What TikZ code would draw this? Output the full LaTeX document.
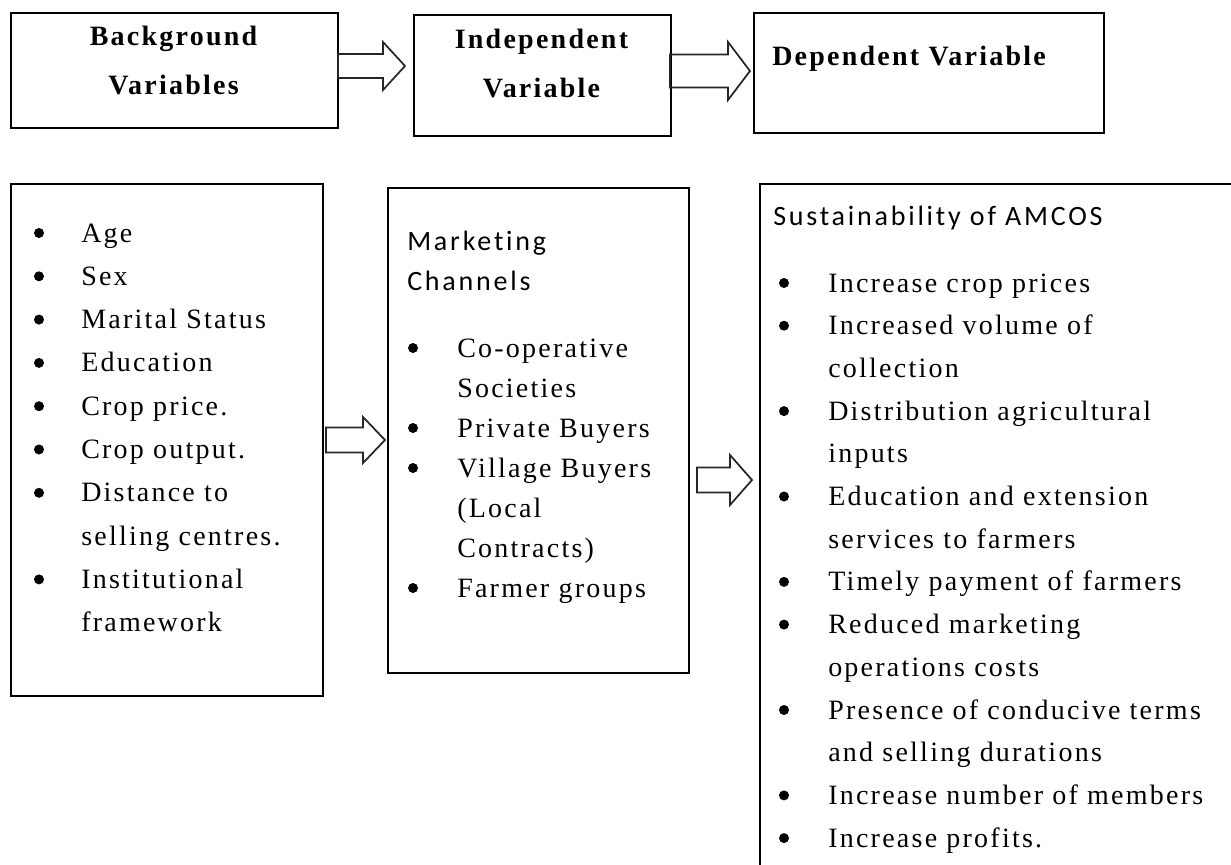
\documentclass[tikz,border=0pt]{standalone}
\usepackage{fontspec}
\setmainfont{Liberation Serif}[LetterSpace=8]
\newfontfamily\calfont{Carlito}[LetterSpace=10, Ligatures=NoCommon]
\usetikzlibrary{calc}

\tikzset{
  shaftw/.store in=\shaftw, headw/.store in=\headw,
  shaftw=12, headw=24,
}

\begin{document}
\begin{tikzpicture}[x=0.75pt, y=-0.75pt, font=\fontsize{21}{36}\selectfont,
    box/.style={draw, line width=1.8pt, anchor=north west, inner sep=0pt},
    heading/.style={anchor=base, inner sep=0pt, font=\fontsize{21}{36}\selectfont\bfseries},
    item/.style={anchor=base west, inner sep=0pt},
    dot/.style={circle, fill=black, inner sep=0pt, minimum size=7.5pt},
    hollow/.style={draw=black!85, line width=1.3pt,
      to path={let \p1=(\tikztostart), \p2=(\tikztotarget) in
        (\x1,\y1+\shaftw*\px) -- (\x2-22*\px,\y1+\shaftw*\px) -- (\x2-22*\px,\y1+\headw*\px)
        -- (\x2,\y1) -- (\x2-22*\px,\y1-\headw*\px) -- (\x2-22*\px,\y1-\shaftw*\px)
        -- (\x1,\y1-\shaftw*\px) -- cycle}}]
    % one unit is one pixel of the reference
    \def\px{0.75pt}
    \useasboundingbox (0,0) rectangle (1231,864);
    \clip (0,0) rectangle (1231,864);
    \fill[white] (0,0) rectangle (1231,864);

    % Top row
    \node[box, minimum width=327*\px, minimum height=115*\px] (bgbox) at (10,12) {};
    \node[heading] (bgtop) at (173.5,45.5) {Background};
    \node[heading] (bgbot) at (173.5,94) {Variables};

    \node[box, minimum width=257*\px, minimum height=121*\px] (indbox) at (413,14) {};
    \node[heading] (indtop) at (541.5,48.5) {Independent};
    \node[heading] (indbot) at (541.5,97) {Variable};

    \node[box, minimum width=350*\px, minimum height=120*\px] (depbox) at (753,12) {};
    \node[heading, anchor=base west] (deptxt) at (772,65.5) {Dependent Variable};

    % Arrows, top row
    \coordinate (bgout) at (338,66);
    \coordinate (indin) at (405,66);
    \draw[hollow] (bgout) to (indin);
    \coordinate (indout) at (670,71);
    \coordinate (depin) at (750,71);
    \draw[hollow, shaftw=16.5, headw=29] (indout) to (depin);

    % Bottom row
    \node[box, minimum width=312*\px, minimum height=512*\px] (bglist) at (10,183) {};
    \node[box, minimum width=301*\px, minimum height=485*\px] (mclist) at (387,187) {};
    \node[box, minimum width=500*\px, minimum height=720*\px] (amlist) at (759,183) {};

    % Background variables
    \foreach \k/\txt [count=\i] in {b/Age, b/Sex, b/Marital Status, b/Education,
        b/Crop price., b/Crop output., b/Distance to, c/selling centres.,
        b/Institutional, c/framework} {
        \node[item] (bg-\i) at (81,{242+(\i-1)*43.3}) {\txt};
        \if b\k \node[dot] (bgdot-\i) at (39,{233+(\i-1)*43.3}) {}; \fi
    }

    % Marketing channels
    \node[item, font=\fontsize{21}{36}\calfont] (mchead1) at (407,250) {Marketing};
    \node[item, font=\fontsize{21}{36}\calfont] (mchead2) at (407,290) {Channels};
    \foreach \k/\txt [count=\i] in {b/Co-operative, c/Societies, b/Private Buyers,
        b/Village Buyers, c/(Local, c/Contracts), b/Farmer groups} {
        \node[item] (mc-\i) at (457,{357+(\i-1)*40}) {\txt};
        \if b\k \node[dot] (mcdot-\i) at (413,{348+(\i-1)*40}) {}; \fi
    }

    % Sustainability of AMCOS
    \node[item, font=\fontsize{21}{36}\calfont] (amhead) at (773,225) {Sustainability of AMCOS};
    \foreach \k/\txt [count=\i] in {b/Increase crop prices, b/Increased volume of,
        c/collection, b/Distribution agricultural, c/inputs,
        b/Education and extension, c/services to farmers,
        b/Timely payment of farmers, b/Reduced marketing, c/operations costs,
        b/Presence of conducive terms, c/and selling durations,
        b/Increase number of members, b/Increase profits.} {
        \node[item] (am-\i) at (828,{292+(\i-1)*42.7}) {\txt};
        \if b\k \node[dot] (amdot-\i) at (784,{283+(\i-1)*42.7}) {}; \fi
    }

    % Arrows, bottom row
    \coordinate (bgright) at (326,440);
    \coordinate (mcleft) at (385,440);
    \draw[hollow, shaftw=12.5, headw=23] (bgright) to (mcleft);
    \coordinate (mcright) at (697,480);
    \coordinate (amleft) at (752,480);
    \draw[hollow, shaftw=12.5, headw=25] (mcright) to (amleft);
\end{tikzpicture}
\end{document}
